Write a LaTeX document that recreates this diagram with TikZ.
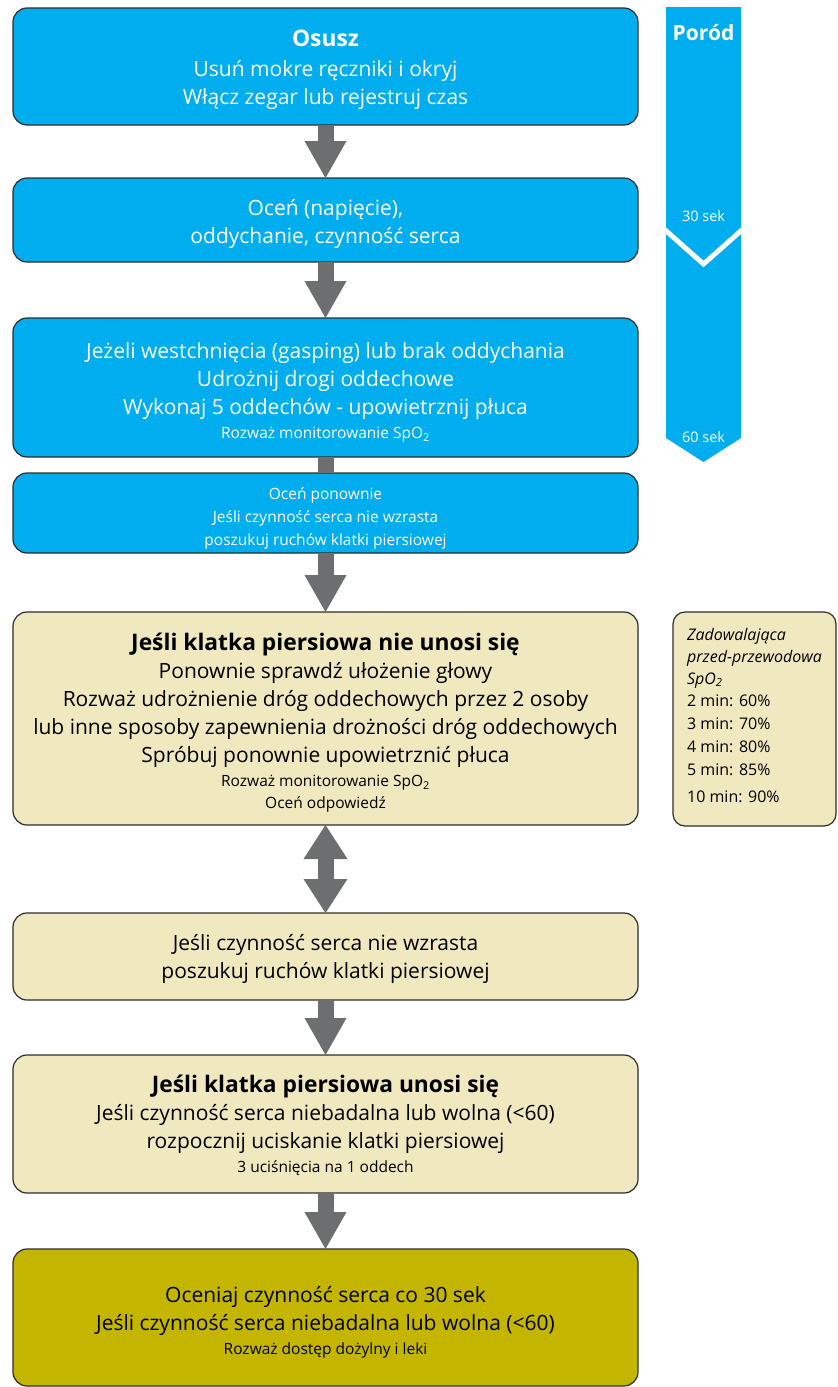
\documentclass[tikz,border=0pt]{standalone}
\usepackage{fontspec}
\setmainfont{Open Sans}
\usetikzlibrary{arrows.meta}

\definecolor{cprblue}{RGB}{0,174,239}
\definecolor{cprbeige}{RGB}{240,233,192}
\definecolor{cprolive}{RGB}{196,181,0}
\definecolor{cprgray}{RGB}{109,110,112}
\definecolor{cpredge}{RGB}{45,45,45}

\newcommand\bigtxt{\fontsize{21}{28}\selectfont}
\newcommand\smalltxt{\fontsize{15.5}{22}\selectfont}
\newcommand\headtxt[1]{{\fontsize{22.8}{28}\selectfont\bfseries #1}}
\newcommand\pad[1]{\rule{0pt}{#1pt}}
\newcommand\drop[1]{\rule[-#1pt]{0pt}{#1pt}}

\begin{document}
\begin{tikzpicture}[x=1pt, y=-1pt,
    panel/.style={draw=cpredge, line width=1.2pt, rounded corners=14pt,
      align=center, inner sep=0pt, outer sep=0pt},
    box/.style={panel, minimum width=625pt, font=\bigtxt},
    bluebox/.style={box, fill=cprblue, text=white},
    beigebox/.style={box, fill=cprbeige, text=black},
    olivebox/.style={box, fill=cprolive, text=black},
    flow/.style={draw=cprgray, line width=16pt,
      -{Triangle[width=42pt 0 0, length=37pt 0 0, line width=0pt 0 0]}},
    twoway/.style={draw=cprgray, line width=16pt,
      {Triangle[width=44pt 0 0, length=34pt 0 0, line width=0pt 0 0]}-{Triangle[width=44pt 0 0, length=34pt 0 0, line width=0pt 0 0]}},
    tick/.style={text=white, font=\fontsize{14.5}{16}\selectfont}
]
  \useasboundingbox (0,0) rectangle (838,1387);

  % blue steps
  \node[bluebox, minimum height=117pt] (dry) at (325.5,66.5)
    {\pad{23}\headtxt{Osusz}\\[2pt]Usuń mokre ręczniki i okryj\\Włącz zegar lub rejestruj czas};
  \node[bluebox, minimum height=84pt] (assess) at (325.5,220)
    {\pad{25}Oceń (napięcie),\\oddychanie, czynność serca};
  \node[bluebox, minimum height=139pt] (vent) at (325.5,387.5)
    {\pad{26}Jeżeli westchnięcia (gasping) lub brak oddychania\\Udrożnij drogi oddechowe\\
     Wykonaj 5 oddechów - upowietrznij płuca\\[-4pt]{\smalltxt Rozważ monitorowanie SpO\textsubscript{2}}};
  \node[bluebox, minimum height=80pt, font=\smalltxt] (reassess) at (325.5,513)
    {\pad{22}Oceń ponownie\\[1pt]Jeśli czynność serca nie wzrasta\\[1pt]poszukuj ruchów klatki piersiowej};

  % beige steps
  \node[beigebox, minimum height=213pt] (nochest) at (325.5,718.5)
    {\pad{26}\headtxt{Jeśli klatka piersiowa nie unosi się}\\Ponownie sprawdź ułożenie głowy\\
     Rozważ udrożnienie dróg oddechowych przez 2 osoby\\
     lub inne sposoby zapewnienia drożności dróg oddechowych\\
     Spróbuj ponownie upowietrznić płuca\\[-4pt]
     {\smalltxt Rozważ monitorowanie SpO\textsubscript{2}}\\[-6pt]{\smalltxt Oceń odpowiedź}};
  \node[beigebox, minimum height=87pt] (nohr) at (325.5,956.5)
    {\pad{21}Jeśli czynność serca nie wzrasta\\poszukuj ruchów klatki piersiowej};
  \node[beigebox, minimum height=138pt] (chest) at (325.5,1124)
    {\pad{21}\headtxt{Jeśli klatka piersiowa unosi się}\\
     Jeśli czynność serca niebadalna lub wolna (<60)\\
     rozpocznij uciskanie klatki piersiowej\\[-4pt]{\smalltxt 3 uciśnięcia na 1 oddech}};
  \node[olivebox, minimum height=137pt] (monitor) at (325.5,1317.5)
    {\pad{26}Oceniaj czynność serca co 30 sek\\
     Jeśli czynność serca niebadalna lub wolna (<60)\\[-4pt]{\smalltxt Rozważ dostęp dożylny i leki}};

  % side box
  \node[panel, fill=cprbeige, minimum width=163pt, minimum height=214pt, rounded corners=12pt,
        align=left, font=\fontsize{16}{23}\selectfont] (spo2) at (754.5,719)
    {\textit{Zadowalająca}\\[-1pt]\textit{przed-przewodowa}\\[-1pt]\textit{SpO\textsubscript{2}}\\[-1pt]
     2 min: 60\%\\3 min: 70\%\\4 min: 80\%\\5 min: 85\%\\[4pt]10 min: 90\%\drop{8}};

  \draw[flow] (dry) -- (assess);
  \draw[flow] (assess) -- (vent);
  \draw[draw=cprgray, line width=16pt] (vent) -- (reassess);
  \draw[flow] (reassess) -- (nochest);
  \draw[twoway] (nochest) -- (nohr);
  \draw[flow] (nohr) -- (chest);
  \draw[flow] (chest) -- (monitor);

  % time bar
  \fill[cprblue] (666,7) -- (741,7) -- (741,438) -- (703.5,462) -- (666,438) -- cycle;
  \draw[white, line width=5pt] (664,229) -- (703.5,264) -- (743,229);
  \node[text=white, font=\bfseries\fontsize{21}{24}\selectfont] (birth) at (703.5,33) {Poród};
  \node[tick] (sec30) at (703.5,216) {30 sek};
  \node[tick] (sec60) at (703.5,437) {60 sek};
\end{tikzpicture}
\end{document}
